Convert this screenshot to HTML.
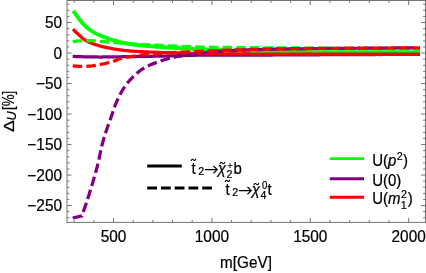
<!DOCTYPE html>
<html><head><meta charset="utf-8"><title>plot</title>
<style>html,body{margin:0;padding:0;background:#fff;}body{width:426px;height:273px;overflow:hidden;font-family:"Liberation Sans",sans-serif;}</style>
</head><body>
<svg width="426" height="273" viewBox="0 0 426 273" style="display:block;will-change:transform">
<rect x="0" y="0" width="426" height="273" fill="#fff"/>
<g fill="none" stroke-linejoin="round">
<path d="M73.20,10.90 L73.68,11.55 L74.16,12.19 L74.64,12.84 L75.12,13.48 L75.60,14.12 L76.08,14.76 L76.56,15.40 L77.04,16.04 L77.53,16.67 L78.01,17.31 L78.49,17.95 L78.97,18.60 L79.45,19.25 L79.93,19.90 L80.41,20.55 L80.89,21.18 L81.37,21.79 L81.85,22.38 L82.33,22.93 L82.81,23.47 L83.29,23.98 L83.77,24.48 L84.25,24.96 L84.73,25.43 L85.21,25.89 L85.69,26.33 L86.18,26.75 L86.66,27.18 L87.14,27.59 L87.62,28.00 L88.10,28.40 L88.58,28.80 L89.06,29.18 L89.54,29.56 L90.02,29.92 L90.50,30.28 L90.98,30.62 L91.46,30.95 L91.94,31.27 L92.42,31.58 L92.90,31.87 L93.38,32.15 L93.86,32.43 L94.35,32.69 L94.83,32.95 L95.31,33.20 L95.79,33.45 L96.27,33.68 L96.75,33.92 L97.23,34.14 L97.71,34.37 L98.19,34.59 L98.67,34.80 L99.15,35.01 L99.63,35.22 L100.11,35.42 L100.59,35.62 L101.07,35.82 L101.55,36.01 L102.03,36.20 L102.52,36.39 L103.00,36.57 L103.48,36.76 L103.96,36.94 L104.44,37.12 L104.92,37.30 L105.40,37.47 L105.88,37.65 L106.36,37.82 L106.84,38.00 L107.32,38.17 L107.80,38.34 L108.28,38.51 L108.76,38.69 L109.24,38.85 L109.72,39.02 L110.20,39.19 L110.68,39.35 L111.17,39.51 L111.65,39.67 L112.13,39.83 L112.61,39.98 L113.09,40.13 L113.57,40.28 L114.05,40.43 L114.53,40.57 L115.01,40.70 L115.49,40.84 L115.97,40.97 L116.45,41.10 L116.93,41.23 L117.41,41.35 L117.89,41.48 L118.37,41.60 L118.85,41.72 L119.34,41.84 L119.82,41.96 L120.30,42.07 L120.78,42.18 L121.26,42.29 L121.74,42.40 L122.22,42.51 L122.70,42.61 L123.18,42.71 L123.66,42.81 L124.14,42.91 L124.62,43.00 L125.10,43.10 L125.58,43.19 L126.06,43.28 L126.54,43.37 L127.02,43.46 L127.51,43.55 L127.99,43.64 L128.47,43.73 L128.95,43.81 L129.43,43.90 L129.91,43.98 L130.39,44.07 L130.87,44.15 L131.35,44.23 L131.83,44.31 L132.31,44.39 L132.79,44.46 L133.27,44.54 L133.75,44.61 L134.23,44.68 L134.71,44.75 L135.19,44.82 L135.67,44.89 L136.16,44.96 L136.64,45.02 L137.12,45.08 L137.60,45.14 L138.08,45.20 L138.56,45.25 L139.04,45.30 L139.52,45.36 L140.00,45.41 L142.35,45.63 L144.70,45.83 L147.06,46.01 L149.41,46.18 L151.76,46.35 L154.11,46.53 L156.46,46.72 L158.82,46.92 L161.17,47.13 L163.52,47.32 L165.87,47.49 L168.23,47.65 L170.58,47.79 L172.93,47.94 L175.28,48.07 L177.63,48.20 L179.99,48.33 L182.34,48.46 L184.69,48.57 L187.04,48.69 L189.39,48.81 L191.75,48.92 L194.10,49.03 L196.45,49.14 L198.80,49.25 L201.15,49.35 L203.51,49.46 L205.86,49.57 L208.21,49.67 L210.56,49.77 L212.92,49.88 L215.27,49.98 L217.62,50.07 L219.97,50.17 L222.32,50.27 L224.68,50.36 L227.03,50.45 L229.38,50.54 L231.73,50.62 L234.08,50.71 L236.44,50.79 L238.79,50.86 L241.14,50.94 L243.49,51.01 L245.84,51.09 L248.20,51.16 L250.55,51.24 L252.90,51.31 L255.25,51.38 L257.61,51.45 L259.96,51.51 L262.31,51.57 L264.66,51.63 L267.01,51.68 L269.37,51.72 L271.72,51.76 L274.07,51.79 L276.42,51.81 L278.77,51.84 L281.13,51.86 L283.48,51.88 L285.83,51.90 L288.18,51.91 L290.53,51.93 L292.89,51.95 L295.24,51.97 L297.59,51.98 L299.94,52.00 L302.29,52.01 L304.65,52.03 L307.00,52.04 L309.35,52.05 L311.70,52.06 L314.06,52.08 L316.41,52.09 L318.76,52.10 L321.11,52.11 L323.46,52.12 L325.82,52.13 L328.17,52.14 L330.52,52.15 L332.87,52.15 L335.22,52.16 L337.58,52.17 L339.93,52.17 L342.28,52.18 L344.63,52.19 L346.98,52.19 L349.34,52.20 L351.69,52.20 L354.04,52.21 L356.39,52.21 L358.75,52.22 L361.10,52.22 L363.45,52.23 L365.80,52.23 L368.15,52.24 L370.51,52.24 L372.86,52.25 L375.21,52.25 L377.56,52.26 L379.91,52.26 L382.27,52.27 L384.62,52.27 L386.97,52.27 L389.32,52.28 L391.67,52.28 L394.03,52.28 L396.38,52.29 L398.73,52.29 L401.08,52.29 L403.44,52.29 L405.79,52.29 L408.14,52.30 L410.49,52.30 L412.84,52.30 L415.20,52.30 L417.55,52.30 L419.90,52.30" stroke="#00ff00" stroke-width="3.85"/>
<path d="M72.70,56.40 L73.18,56.42 L73.67,56.44 L74.15,56.46 L74.64,56.47 L75.12,56.49 L75.61,56.51 L76.09,56.53 L76.57,56.54 L77.06,56.56 L77.54,56.58 L78.03,56.59 L78.51,56.61 L78.99,56.63 L79.48,56.64 L79.96,56.66 L80.45,56.67 L80.93,56.69 L81.42,56.70 L81.90,56.72 L82.38,56.73 L82.87,56.74 L83.35,56.76 L83.84,56.77 L84.32,56.78 L84.80,56.79 L85.29,56.81 L85.77,56.82 L86.26,56.83 L86.74,56.84 L87.23,56.85 L87.71,56.86 L88.19,56.87 L88.68,56.88 L89.16,56.89 L89.65,56.90 L90.13,56.91 L90.61,56.92 L91.10,56.93 L91.58,56.93 L92.07,56.94 L92.55,56.95 L93.04,56.95 L93.52,56.96 L94.00,56.97 L94.49,56.97 L94.97,56.98 L95.46,56.98 L95.94,56.98 L96.42,56.99 L96.91,56.99 L97.39,56.99 L97.88,57.00 L98.36,57.00 L98.85,57.00 L99.33,57.00 L99.81,57.00 L100.30,57.00 L100.78,57.00 L101.27,57.00 L101.75,57.00 L102.23,57.00 L102.72,56.99 L103.20,56.99 L103.69,56.99 L104.17,56.99 L104.66,56.98 L105.14,56.98 L105.62,56.98 L106.11,56.97 L106.59,56.97 L107.08,56.96 L107.56,56.96 L108.04,56.95 L108.53,56.95 L109.01,56.94 L109.50,56.94 L109.98,56.93 L110.47,56.92 L110.95,56.92 L111.43,56.91 L111.92,56.90 L112.40,56.90 L112.89,56.89 L113.37,56.88 L113.85,56.87 L114.34,56.87 L114.82,56.86 L115.31,56.85 L115.79,56.84 L116.28,56.83 L116.76,56.83 L117.24,56.82 L117.73,56.81 L118.21,56.80 L118.70,56.79 L119.18,56.78 L119.66,56.78 L120.15,56.77 L120.63,56.76 L121.12,56.75 L121.60,56.74 L122.09,56.73 L122.57,56.72 L123.05,56.71 L123.54,56.71 L124.02,56.70 L124.51,56.69 L124.99,56.68 L125.47,56.67 L125.96,56.66 L126.44,56.66 L126.93,56.65 L127.41,56.64 L127.90,56.63 L128.38,56.62 L128.86,56.62 L129.35,56.61 L129.83,56.60 L130.32,56.60 L130.80,56.59 L131.28,56.58 L131.77,56.57 L132.25,56.57 L132.74,56.56 L133.22,56.55 L133.71,56.54 L134.19,56.54 L134.67,56.53 L135.16,56.52 L135.64,56.52 L136.13,56.51 L136.61,56.50 L137.09,56.49 L137.58,56.49 L138.06,56.48 L138.55,56.47 L139.03,56.46 L139.52,56.46 L140.00,56.45 L142.35,56.41 L144.70,56.37 L147.06,56.34 L149.41,56.30 L151.76,56.26 L154.11,56.22 L156.46,56.18 L158.82,56.14 L161.17,56.09 L163.52,56.05 L165.87,56.00 L168.23,55.95 L170.58,55.90 L172.93,55.83 L175.28,55.77 L177.63,55.70 L179.99,55.63 L182.34,55.56 L184.69,55.49 L187.04,55.43 L189.39,55.37 L191.75,55.31 L194.10,55.27 L196.45,55.23 L198.80,55.21 L201.15,55.19 L203.51,55.18 L205.86,55.17 L208.21,55.16 L210.56,55.15 L212.92,55.14 L215.27,55.14 L217.62,55.13 L219.97,55.12 L222.32,55.12 L224.68,55.11 L227.03,55.10 L229.38,55.10 L231.73,55.09 L234.08,55.09 L236.44,55.09 L238.79,55.08 L241.14,55.08 L243.49,55.07 L245.84,55.07 L248.20,55.06 L250.55,55.06 L252.90,55.06 L255.25,55.05 L257.61,55.05 L259.96,55.04 L262.31,55.04 L264.66,55.03 L267.01,55.02 L269.37,55.02 L271.72,55.01 L274.07,55.00 L276.42,54.99 L278.77,54.99 L281.13,54.98 L283.48,54.97 L285.83,54.95 L288.18,54.94 L290.53,54.93 L292.89,54.92 L295.24,54.90 L297.59,54.89 L299.94,54.88 L302.29,54.86 L304.65,54.85 L307.00,54.84 L309.35,54.82 L311.70,54.81 L314.06,54.79 L316.41,54.78 L318.76,54.76 L321.11,54.75 L323.46,54.73 L325.82,54.72 L328.17,54.71 L330.52,54.69 L332.87,54.68 L335.22,54.67 L337.58,54.66 L339.93,54.64 L342.28,54.63 L344.63,54.62 L346.98,54.61 L349.34,54.60 L351.69,54.59 L354.04,54.59 L356.39,54.58 L358.75,54.57 L361.10,54.56 L363.45,54.55 L365.80,54.54 L368.15,54.54 L370.51,54.53 L372.86,54.52 L375.21,54.51 L377.56,54.50 L379.91,54.50 L382.27,54.49 L384.62,54.48 L386.97,54.48 L389.32,54.47 L391.67,54.46 L394.03,54.46 L396.38,54.45 L398.73,54.44 L401.08,54.44 L403.44,54.43 L405.79,54.43 L408.14,54.42 L410.49,54.42 L412.84,54.41 L415.20,54.41 L417.55,54.40 L419.90,54.40" stroke="#800080" stroke-width="3.25"/>
<path d="M72.90,29.20 L73.38,29.68 L73.87,30.15 L74.35,30.62 L74.83,31.08 L75.31,31.54 L75.80,32.00 L76.28,32.46 L76.76,32.91 L77.24,33.35 L77.73,33.80 L78.21,34.24 L78.69,34.67 L79.18,35.12 L79.66,35.56 L80.14,36.01 L80.62,36.46 L81.11,36.90 L81.59,37.33 L82.07,37.76 L82.55,38.17 L83.04,38.57 L83.52,38.94 L84.00,39.29 L84.49,39.62 L84.97,39.93 L85.45,40.23 L85.93,40.51 L86.42,40.78 L86.90,41.04 L87.38,41.29 L87.86,41.53 L88.35,41.77 L88.83,42.01 L89.31,42.24 L89.80,42.47 L90.28,42.68 L90.76,42.90 L91.24,43.10 L91.73,43.29 L92.21,43.48 L92.69,43.66 L93.17,43.84 L93.66,44.01 L94.14,44.19 L94.62,44.35 L95.11,44.52 L95.59,44.68 L96.07,44.83 L96.55,44.99 L97.04,45.14 L97.52,45.29 L98.00,45.43 L98.48,45.57 L98.97,45.71 L99.45,45.85 L99.93,45.98 L100.42,46.11 L100.90,46.24 L101.38,46.36 L101.86,46.48 L102.35,46.60 L102.83,46.71 L103.31,46.82 L103.79,46.93 L104.28,47.04 L104.76,47.15 L105.24,47.25 L105.73,47.35 L106.21,47.45 L106.69,47.55 L107.17,47.65 L107.66,47.74 L108.14,47.84 L108.62,47.93 L109.11,48.02 L109.59,48.12 L110.07,48.21 L110.55,48.31 L111.04,48.41 L111.52,48.52 L112.00,48.61 L112.48,48.71 L112.97,48.79 L113.45,48.88 L113.93,48.96 L114.42,49.04 L114.90,49.12 L115.38,49.20 L115.86,49.27 L116.35,49.35 L116.83,49.43 L117.31,49.50 L117.79,49.57 L118.28,49.65 L118.76,49.72 L119.24,49.79 L119.73,49.85 L120.21,49.92 L120.69,49.99 L121.17,50.05 L121.66,50.11 L122.14,50.17 L122.62,50.23 L123.10,50.29 L123.59,50.35 L124.07,50.40 L124.55,50.45 L125.04,50.50 L125.52,50.55 L126.00,50.60 L126.48,50.65 L126.97,50.69 L127.45,50.73 L127.93,50.78 L128.41,50.82 L128.90,50.86 L129.38,50.90 L129.86,50.94 L130.35,50.98 L130.83,51.01 L131.31,51.05 L131.79,51.09 L132.28,51.12 L132.76,51.16 L133.24,51.19 L133.72,51.23 L134.21,51.26 L134.69,51.29 L135.17,51.32 L135.66,51.35 L136.14,51.38 L136.62,51.41 L137.10,51.44 L137.59,51.47 L138.07,51.50 L138.55,51.52 L139.03,51.55 L139.52,51.57 L140.00,51.60 L142.35,51.71 L144.70,51.82 L147.06,51.91 L149.41,52.00 L151.76,52.09 L154.11,52.17 L156.46,52.25 L158.82,52.33 L161.17,52.42 L163.52,52.50 L165.87,52.58 L168.23,52.66 L170.58,52.74 L172.93,52.82 L175.28,52.90 L177.63,52.97 L179.99,53.05 L182.34,53.12 L184.69,53.18 L187.04,53.24 L189.39,53.30 L191.75,53.36 L194.10,53.40 L196.45,53.45 L198.80,53.48 L201.15,53.52 L203.51,53.55 L205.86,53.57 L208.21,53.60 L210.56,53.63 L212.92,53.66 L215.27,53.69 L217.62,53.71 L219.97,53.74 L222.32,53.76 L224.68,53.79 L227.03,53.81 L229.38,53.83 L231.73,53.85 L234.08,53.87 L236.44,53.89 L238.79,53.91 L241.14,53.93 L243.49,53.95 L245.84,53.96 L248.20,53.98 L250.55,54.00 L252.90,54.01 L255.25,54.02 L257.61,54.04 L259.96,54.05 L262.31,54.06 L264.66,54.07 L267.01,54.08 L269.37,54.08 L271.72,54.09 L274.07,54.10 L276.42,54.10 L278.77,54.11 L281.13,54.11 L283.48,54.12 L285.83,54.12 L288.18,54.13 L290.53,54.13 L292.89,54.13 L295.24,54.14 L297.59,54.14 L299.94,54.14 L302.29,54.15 L304.65,54.15 L307.00,54.15 L309.35,54.16 L311.70,54.16 L314.06,54.16 L316.41,54.16 L318.76,54.17 L321.11,54.17 L323.46,54.17 L325.82,54.17 L328.17,54.17 L330.52,54.18 L332.87,54.18 L335.22,54.18 L337.58,54.18 L339.93,54.19 L342.28,54.19 L344.63,54.19 L346.98,54.20 L349.34,54.20 L351.69,54.20 L354.04,54.21 L356.39,54.21 L358.75,54.21 L361.10,54.22 L363.45,54.22 L365.80,54.22 L368.15,54.23 L370.51,54.23 L372.86,54.23 L375.21,54.24 L377.56,54.24 L379.91,54.24 L382.27,54.25 L384.62,54.25 L386.97,54.25 L389.32,54.26 L391.67,54.26 L394.03,54.26 L396.38,54.27 L398.73,54.27 L401.08,54.27 L403.44,54.28 L405.79,54.28 L408.14,54.28 L410.49,54.29 L412.84,54.29 L415.20,54.29 L417.55,54.30 L419.90,54.30" stroke="#ff0000" stroke-width="3.25"/>
<path d="M72.70,41.60 L73.18,41.53 L73.67,41.46 L74.15,41.40 L74.64,41.33 L75.12,41.27 L75.61,41.21 L76.09,41.15 L76.57,41.09 L77.06,41.04 L77.54,40.99 L78.03,40.95 L78.51,40.90 L78.99,40.87 L79.48,40.83 L79.96,40.80 L80.45,40.77 L80.93,40.75 L81.42,40.72 L81.90,40.70 L82.38,40.67 L82.87,40.65 L83.35,40.62 L83.84,40.60 L84.32,40.58 L84.80,40.56 L85.29,40.55 L85.77,40.53 L86.26,40.52 L86.74,40.51 L87.23,40.50 L87.71,40.50 L88.19,40.50 L88.68,40.51 L89.16,40.52 L89.65,40.53 L90.13,40.55 L90.61,40.58 L91.10,40.60 L91.58,40.64 L92.07,40.67 L92.55,40.71 L93.04,40.75 L93.52,40.79 L94.00,40.84 L94.49,40.88 L94.97,40.93 L95.46,40.98 L95.94,41.03 L96.42,41.07 L96.91,41.12 L97.39,41.17 L97.88,41.22 L98.36,41.26 L98.85,41.30 L99.33,41.35 L99.81,41.39 L100.30,41.42 L100.78,41.46 L101.27,41.50 L101.75,41.53 L102.23,41.57 L102.72,41.61 L103.20,41.64 L103.69,41.68 L104.17,41.72 L104.66,41.75 L105.14,41.79 L105.62,41.83 L106.11,41.86 L106.59,41.90 L107.08,41.94 L107.56,41.97 L108.04,42.01 L108.53,42.05 L109.01,42.09 L109.50,42.12 L109.98,42.16 L110.47,42.20 L110.95,42.24 L111.43,42.28 L111.92,42.31 L112.40,42.35 L112.89,42.39 L113.37,42.43 L113.85,42.47 L114.34,42.51 L114.82,42.55 L115.31,42.59 L115.79,42.63 L116.28,42.67 L116.76,42.71 L117.24,42.76 L117.73,42.80 L118.21,42.84 L118.70,42.88 L119.18,42.92 L119.66,42.97 L120.15,43.01 L120.63,43.05 L121.12,43.09 L121.60,43.13 L122.09,43.17 L122.57,43.21 L123.05,43.25 L123.54,43.29 L124.02,43.33 L124.51,43.36 L124.99,43.40 L125.47,43.44 L125.96,43.47 L126.44,43.51 L126.93,43.54 L127.41,43.58 L127.90,43.61 L128.38,43.65 L128.86,43.68 L129.35,43.72 L129.83,43.75 L130.32,43.78 L130.80,43.82 L131.28,43.85 L131.77,43.88 L132.25,43.92 L132.74,43.95 L133.22,43.98 L133.71,44.01 L134.19,44.05 L134.67,44.08 L135.16,44.11 L135.64,44.14 L136.13,44.17 L136.61,44.20 L137.09,44.23 L137.58,44.26 L138.06,44.29 L138.55,44.32 L139.03,44.34 L139.52,44.37 L140.00,44.40 L142.35,44.53 L144.70,44.64 L147.06,44.76 L149.41,44.87 L151.76,44.99 L154.11,45.11 L156.46,45.23 L158.82,45.35 L161.17,45.47 L163.52,45.59 L165.87,45.69 L168.23,45.80 L170.58,45.90 L172.93,46.01 L175.28,46.11 L177.63,46.22 L179.99,46.32 L182.34,46.42 L184.69,46.51 L187.04,46.60 L189.39,46.69 L191.75,46.77 L194.10,46.85 L196.45,46.91 L198.80,46.97 L201.15,47.02 L203.51,47.07 L205.86,47.12 L208.21,47.17 L210.56,47.21 L212.92,47.25 L215.27,47.29 L217.62,47.33 L219.97,47.36 L222.32,47.39 L224.68,47.43 L227.03,47.46 L229.38,47.49 L231.73,47.51 L234.08,47.54 L236.44,47.56 L238.79,47.59 L241.14,47.61 L243.49,47.63 L245.84,47.65 L248.20,47.67 L250.55,47.69 L252.90,47.71 L255.25,47.72 L257.61,47.74 L259.96,47.76 L262.31,47.77 L264.66,47.79 L267.01,47.80 L269.37,47.82 L271.72,47.83 L274.07,47.84 L276.42,47.86 L278.77,47.87 L281.13,47.88 L283.48,47.90 L285.83,47.91 L288.18,47.92 L290.53,47.93 L292.89,47.94 L295.24,47.95 L297.59,47.96 L299.94,47.97 L302.29,47.98 L304.65,47.99 L307.00,48.01 L309.35,48.02 L311.70,48.04 L314.06,48.05 L316.41,48.07 L318.76,48.09 L321.11,48.11 L323.46,48.14 L325.82,48.19 L328.17,48.24 L330.52,48.29 L332.87,48.35 L335.22,48.41 L337.58,48.47 L339.93,48.53 L342.28,48.58 L344.63,48.63 L346.98,48.67 L349.34,48.69 L351.69,48.71 L354.04,48.73 L356.39,48.75 L358.75,48.76 L361.10,48.78 L363.45,48.80 L365.80,48.81 L368.15,48.83 L370.51,48.84 L372.86,48.86 L375.21,48.87 L377.56,48.88 L379.91,48.89 L382.27,48.91 L384.62,48.92 L386.97,48.93 L389.32,48.94 L391.67,48.95 L394.03,48.95 L396.38,48.96 L398.73,48.97 L401.08,48.98 L403.44,48.98 L405.79,48.99 L408.14,48.99 L410.49,48.99 L412.84,49.00 L415.20,49.00 L417.55,49.00 L419.90,49.00" stroke="#00ff00" stroke-width="3.25" stroke-dasharray="9.6 4.05"/>
<path d="M72.70,218.00 L81.90,215.90 L82.32,214.71 L82.74,213.51 L83.15,212.30 L83.57,211.09 L83.99,209.87 L84.41,208.64 L84.83,207.40 L85.24,206.15 L85.66,204.90 L86.08,203.64 L86.50,202.37 L86.92,201.10 L87.33,199.82 L87.75,198.53 L88.17,197.24 L88.59,195.94 L89.01,194.64 L89.42,193.33 L89.84,192.01 L90.26,190.68 L90.68,189.34 L91.10,187.99 L91.51,186.63 L91.93,185.25 L92.35,183.86 L92.77,182.45 L93.19,181.03 L93.60,179.60 L94.02,178.17 L94.44,176.73 L94.86,175.27 L95.28,173.80 L95.69,172.31 L96.11,170.79 L96.53,169.24 L96.95,167.66 L97.37,166.04 L97.78,164.38 L98.20,162.66 L98.62,160.82 L99.04,158.87 L99.46,156.86 L99.87,154.81 L100.29,152.77 L100.71,150.77 L101.13,148.84 L101.55,147.03 L101.96,145.36 L102.38,143.77 L102.80,142.22 L103.22,140.72 L103.64,139.27 L104.05,137.85 L104.47,136.46 L104.89,135.11 L105.31,133.78 L105.73,132.46 L106.14,131.17 L106.56,129.90 L106.98,128.67 L107.40,127.47 L107.82,126.30 L108.23,125.14 L108.65,124.00 L109.07,122.86 L109.49,121.73 L109.91,120.58 L110.32,119.43 L110.74,118.25 L111.16,117.05 L111.58,115.82 L111.99,114.56 L112.41,113.28 L112.83,112.01 L113.25,110.74 L113.67,109.49 L114.08,108.28 L114.50,107.10 L114.92,105.97 L115.34,104.90 L115.76,103.88 L116.17,102.87 L116.59,101.89 L117.01,100.93 L117.43,99.99 L117.85,99.07 L118.26,98.18 L118.68,97.30 L119.10,96.45 L119.52,95.61 L119.94,94.80 L120.35,94.02 L120.77,93.25 L121.19,92.50 L121.61,91.77 L122.03,91.04 L122.44,90.34 L122.86,89.64 L123.28,88.96 L123.70,88.30 L124.12,87.65 L124.53,87.02 L124.95,86.40 L125.37,85.80 L125.79,85.21 L126.21,84.64 L126.62,84.08 L127.04,83.55 L127.46,83.02 L127.88,82.51 L128.30,82.00 L128.71,81.51 L129.13,81.02 L129.55,80.55 L129.97,80.08 L130.39,79.62 L130.80,79.17 L131.22,78.73 L131.64,78.29 L132.06,77.87 L132.48,77.45 L132.89,77.03 L133.31,76.63 L133.73,76.23 L134.15,75.83 L134.57,75.45 L134.98,75.06 L135.40,74.69 L135.82,74.31 L136.24,73.94 L136.66,73.58 L137.07,73.21 L137.49,72.85 L137.91,72.49 L138.33,72.13 L138.75,71.78 L139.16,71.44 L139.58,71.10 L140.00,70.77 L142.35,69.02 L144.70,67.54 L147.06,66.32 L149.41,65.27 L151.76,64.31 L154.11,63.38 L156.46,62.46 L158.82,61.58 L161.17,60.75 L163.52,59.98 L165.87,59.29 L168.23,58.66 L170.58,58.06 L172.93,57.50 L175.28,56.98 L177.63,56.49 L179.99,56.04 L182.34,55.61 L184.69,55.21 L187.04,54.83 L189.39,54.49 L191.75,54.16 L194.10,53.87 L196.45,53.59 L198.80,53.33 L201.15,53.08 L203.51,52.82 L205.86,52.58 L208.21,52.33 L210.56,52.10 L212.92,51.88 L215.27,51.67 L217.62,51.48 L219.97,51.30 L222.32,51.14 L224.68,50.99 L227.03,50.84 L229.38,50.71 L231.73,50.58 L234.08,50.46 L236.44,50.35 L238.79,50.25 L241.14,50.16 L243.49,50.07 L245.84,49.98 L248.20,49.90 L250.55,49.82 L252.90,49.75 L255.25,49.67 L257.61,49.61 L259.96,49.54 L262.31,49.48 L264.66,49.42 L267.01,49.36 L269.37,49.31 L271.72,49.26 L274.07,49.22 L276.42,49.17 L278.77,49.13 L281.13,49.09 L283.48,49.06 L285.83,49.02 L288.18,48.98 L290.53,48.95 L292.89,48.91 L295.24,48.88 L297.59,48.84 L299.94,48.81 L302.29,48.78 L304.65,48.75 L307.00,48.72 L309.35,48.69 L311.70,48.66 L314.06,48.64 L316.41,48.61 L318.76,48.59 L321.11,48.56 L323.46,48.54 L325.82,48.51 L328.17,48.49 L330.52,48.47 L332.87,48.44 L335.22,48.42 L337.58,48.40 L339.93,48.38 L342.28,48.36 L344.63,48.34 L346.98,48.32 L349.34,48.31 L351.69,48.29 L354.04,48.27 L356.39,48.25 L358.75,48.23 L361.10,48.22 L363.45,48.20 L365.80,48.18 L368.15,48.17 L370.51,48.15 L372.86,48.13 L375.21,48.12 L377.56,48.10 L379.91,48.09 L382.27,48.07 L384.62,48.06 L386.97,48.04 L389.32,48.03 L391.67,48.02 L394.03,48.00 L396.38,47.99 L398.73,47.98 L401.08,47.97 L403.44,47.96 L405.79,47.95 L408.14,47.94 L410.49,47.93 L412.84,47.92 L415.20,47.91 L417.55,47.91 L419.90,47.90" stroke="#800080" stroke-width="3.25" stroke-dasharray="9.6 4.05"/>
<path d="M72.70,65.80 L73.18,65.86 L73.67,65.91 L74.15,65.96 L74.64,66.01 L75.12,66.06 L75.61,66.10 L76.09,66.14 L76.57,66.18 L77.06,66.22 L77.54,66.25 L78.03,66.28 L78.51,66.31 L78.99,66.33 L79.48,66.35 L79.96,66.37 L80.45,66.38 L80.93,66.39 L81.42,66.40 L81.90,66.40 L82.38,66.40 L82.87,66.40 L83.35,66.39 L83.84,66.38 L84.32,66.37 L84.80,66.35 L85.29,66.34 L85.77,66.32 L86.26,66.30 L86.74,66.28 L87.23,66.25 L87.71,66.23 L88.19,66.20 L88.68,66.18 L89.16,66.15 L89.65,66.12 L90.13,66.09 L90.61,66.06 L91.10,66.01 L91.58,65.97 L92.07,65.91 L92.55,65.85 L93.04,65.78 L93.52,65.71 L94.00,65.63 L94.49,65.55 L94.97,65.47 L95.46,65.38 L95.94,65.29 L96.42,65.20 L96.91,65.10 L97.39,65.01 L97.88,64.91 L98.36,64.82 L98.85,64.72 L99.33,64.63 L99.81,64.54 L100.30,64.44 L100.78,64.35 L101.27,64.26 L101.75,64.17 L102.23,64.07 L102.72,63.98 L103.20,63.88 L103.69,63.78 L104.17,63.68 L104.66,63.58 L105.14,63.48 L105.62,63.37 L106.11,63.26 L106.59,63.16 L107.08,63.05 L107.56,62.93 L108.04,62.82 L108.53,62.70 L109.01,62.58 L109.50,62.46 L109.98,62.34 L110.47,62.21 L110.95,62.08 L111.43,61.95 L111.92,61.81 L112.40,61.67 L112.89,61.53 L113.37,61.38 L113.85,61.22 L114.34,61.03 L114.82,60.84 L115.31,60.64 L115.79,60.42 L116.28,60.21 L116.76,60.00 L117.24,59.79 L117.73,59.58 L118.21,59.39 L118.70,59.21 L119.18,59.04 L119.66,58.89 L120.15,58.76 L120.63,58.64 L121.12,58.52 L121.60,58.41 L122.09,58.29 L122.57,58.18 L123.05,58.07 L123.54,57.96 L124.02,57.86 L124.51,57.75 L124.99,57.65 L125.47,57.55 L125.96,57.45 L126.44,57.36 L126.93,57.26 L127.41,57.17 L127.90,57.08 L128.38,56.99 L128.86,56.90 L129.35,56.82 L129.83,56.73 L130.32,56.65 L130.80,56.57 L131.28,56.49 L131.77,56.41 L132.25,56.33 L132.74,56.25 L133.22,56.18 L133.71,56.11 L134.19,56.03 L134.67,55.96 L135.16,55.89 L135.64,55.83 L136.13,55.76 L136.61,55.69 L137.09,55.63 L137.58,55.56 L138.06,55.50 L138.55,55.44 L139.03,55.38 L139.52,55.31 L140.00,55.25 L142.35,54.97 L144.70,54.71 L147.06,54.47 L149.41,54.24 L151.76,54.03 L154.11,53.83 L156.46,53.65 L158.82,53.48 L161.17,53.32 L163.52,53.17 L165.87,53.02 L168.23,52.88 L170.58,52.74 L172.93,52.60 L175.28,52.47 L177.63,52.35 L179.99,52.23 L182.34,52.11 L184.69,52.00 L187.04,51.88 L189.39,51.77 L191.75,51.67 L194.10,51.56 L196.45,51.46 L198.80,51.35 L201.15,51.25 L203.51,51.15 L205.86,51.05 L208.21,50.95 L210.56,50.85 L212.92,50.76 L215.27,50.67 L217.62,50.57 L219.97,50.48 L222.32,50.40 L224.68,50.31 L227.03,50.23 L229.38,50.14 L231.73,50.06 L234.08,49.99 L236.44,49.91 L238.79,49.84 L241.14,49.77 L243.49,49.69 L245.84,49.62 L248.20,49.55 L250.55,49.48 L252.90,49.41 L255.25,49.34 L257.61,49.28 L259.96,49.21 L262.31,49.15 L264.66,49.10 L267.01,49.05 L269.37,49.00 L271.72,48.95 L274.07,48.91 L276.42,48.88 L278.77,48.85 L281.13,48.81 L283.48,48.78 L285.83,48.75 L288.18,48.72 L290.53,48.70 L292.89,48.67 L295.24,48.64 L297.59,48.62 L299.94,48.59 L302.29,48.57 L304.65,48.54 L307.00,48.52 L309.35,48.50 L311.70,48.48 L314.06,48.46 L316.41,48.43 L318.76,48.42 L321.11,48.40 L323.46,48.38 L325.82,48.36 L328.17,48.34 L330.52,48.33 L332.87,48.31 L335.22,48.29 L337.58,48.28 L339.93,48.26 L342.28,48.25 L344.63,48.23 L346.98,48.22 L349.34,48.20 L351.69,48.19 L354.04,48.18 L356.39,48.16 L358.75,48.15 L361.10,48.14 L363.45,48.12 L365.80,48.11 L368.15,48.10 L370.51,48.09 L372.86,48.07 L375.21,48.06 L377.56,48.05 L379.91,48.04 L382.27,48.03 L384.62,48.02 L386.97,48.01 L389.32,48.00 L391.67,47.99 L394.03,47.98 L396.38,47.97 L398.73,47.96 L401.08,47.95 L403.44,47.94 L405.79,47.94 L408.14,47.93 L410.49,47.92 L412.84,47.92 L415.20,47.91 L417.55,47.90 L419.90,47.90" stroke="#ff0000" stroke-width="3.25" stroke-dasharray="9.6 4.05"/>
</g>
<g stroke="#747474" stroke-width="1" fill="none">
<rect x="67.0" y="0.5" width="358.5" height="221.9"/>
<path d="M74.20,222.4 v-2.4 M74.20,0.5 v2.4"/>
<path d="M93.88,222.4 v-2.4 M93.88,0.5 v2.4"/>
<path d="M113.55,222.4 v-4.5 M113.55,0.5 v4.5"/>
<path d="M133.22,222.4 v-2.4 M133.22,0.5 v2.4"/>
<path d="M152.90,222.4 v-2.4 M152.90,0.5 v2.4"/>
<path d="M172.57,222.4 v-2.4 M172.57,0.5 v2.4"/>
<path d="M192.24,222.4 v-2.4 M192.24,0.5 v2.4"/>
<path d="M211.92,222.4 v-4.5 M211.92,0.5 v4.5"/>
<path d="M231.59,222.4 v-2.4 M231.59,0.5 v2.4"/>
<path d="M251.26,222.4 v-2.4 M251.26,0.5 v2.4"/>
<path d="M270.94,222.4 v-2.4 M270.94,0.5 v2.4"/>
<path d="M290.61,222.4 v-2.4 M290.61,0.5 v2.4"/>
<path d="M310.28,222.4 v-4.5 M310.28,0.5 v4.5"/>
<path d="M329.96,222.4 v-2.4 M329.96,0.5 v2.4"/>
<path d="M349.63,222.4 v-2.4 M349.63,0.5 v2.4"/>
<path d="M369.30,222.4 v-2.4 M369.30,0.5 v2.4"/>
<path d="M388.98,222.4 v-2.4 M388.98,0.5 v2.4"/>
<path d="M408.65,222.4 v-4.5 M408.65,0.5 v4.5"/>
<path d="M67.0,217.75 h2.4 M425.5,217.75 h-2.4"/>
<path d="M67.0,211.65 h2.4 M425.5,211.65 h-2.4"/>
<path d="M67.0,205.55 h4.5 M425.5,205.55 h-4.5"/>
<path d="M67.0,199.45 h2.4 M425.5,199.45 h-2.4"/>
<path d="M67.0,193.35 h2.4 M425.5,193.35 h-2.4"/>
<path d="M67.0,187.25 h2.4 M425.5,187.25 h-2.4"/>
<path d="M67.0,181.15 h2.4 M425.5,181.15 h-2.4"/>
<path d="M67.0,175.05 h4.5 M425.5,175.05 h-4.5"/>
<path d="M67.0,168.95 h2.4 M425.5,168.95 h-2.4"/>
<path d="M67.0,162.85 h2.4 M425.5,162.85 h-2.4"/>
<path d="M67.0,156.75 h2.4 M425.5,156.75 h-2.4"/>
<path d="M67.0,150.65 h2.4 M425.5,150.65 h-2.4"/>
<path d="M67.0,144.55 h4.5 M425.5,144.55 h-4.5"/>
<path d="M67.0,138.45 h2.4 M425.5,138.45 h-2.4"/>
<path d="M67.0,132.35 h2.4 M425.5,132.35 h-2.4"/>
<path d="M67.0,126.25 h2.4 M425.5,126.25 h-2.4"/>
<path d="M67.0,120.15 h2.4 M425.5,120.15 h-2.4"/>
<path d="M67.0,114.05 h4.5 M425.5,114.05 h-4.5"/>
<path d="M67.0,107.95 h2.4 M425.5,107.95 h-2.4"/>
<path d="M67.0,101.85 h2.4 M425.5,101.85 h-2.4"/>
<path d="M67.0,95.75 h2.4 M425.5,95.75 h-2.4"/>
<path d="M67.0,89.65 h2.4 M425.5,89.65 h-2.4"/>
<path d="M67.0,83.55 h4.5 M425.5,83.55 h-4.5"/>
<path d="M67.0,77.45 h2.4 M425.5,77.45 h-2.4"/>
<path d="M67.0,71.35 h2.4 M425.5,71.35 h-2.4"/>
<path d="M67.0,65.25 h2.4 M425.5,65.25 h-2.4"/>
<path d="M67.0,59.15 h2.4 M425.5,59.15 h-2.4"/>
<path d="M67.0,53.05 h4.5 M425.5,53.05 h-4.5"/>
<path d="M67.0,46.95 h2.4 M425.5,46.95 h-2.4"/>
<path d="M67.0,40.85 h2.4 M425.5,40.85 h-2.4"/>
<path d="M67.0,34.75 h2.4 M425.5,34.75 h-2.4"/>
<path d="M67.0,28.65 h2.4 M425.5,28.65 h-2.4"/>
<path d="M67.0,22.55 h4.5 M425.5,22.55 h-4.5"/>
<path d="M67.0,16.45 h2.4 M425.5,16.45 h-2.4"/>
<path d="M67.0,10.35 h2.4 M425.5,10.35 h-2.4"/>
<path d="M67.0,4.25 h2.4 M425.5,4.25 h-2.4"/>
</g>
<g font-family="Liberation Sans, sans-serif" font-size="15.0" fill="#000" stroke="#000" stroke-width="0.22">
<text transform="translate(62.00 28.25) scale(1.0 1.05)" text-anchor="end" font-size="15.4">50</text>
<text transform="translate(62.00 58.75) scale(1.0 1.05)" text-anchor="end" font-size="15.4">0</text>
<text transform="translate(62.00 89.25) scale(1.0 1.05)" text-anchor="end" font-size="15.4">−50</text>
<text transform="translate(62.00 119.75) scale(1.0 1.05)" text-anchor="end" font-size="15.4">−100</text>
<text transform="translate(62.00 150.25) scale(1.0 1.05)" text-anchor="end" font-size="15.4">−150</text>
<text transform="translate(62.00 180.75) scale(1.0 1.05)" text-anchor="end" font-size="15.4">−200</text>
<text transform="translate(62.00 211.25) scale(1.0 1.05)" text-anchor="end" font-size="15.4">−250</text>
<text transform="translate(113.55 241.60) scale(1.0 1.05)" text-anchor="middle" font-size="15.4">500</text>
<text transform="translate(211.92 241.60) scale(1.0 1.05)" text-anchor="middle" font-size="15.4">1000</text>
<text transform="translate(310.28 241.60) scale(1.0 1.05)" text-anchor="middle" font-size="15.4">1500</text>
<text transform="translate(408.65 241.60) scale(1.0 1.05)" text-anchor="middle" font-size="15.4">2000</text>
<text transform="translate(246.00 268.00) scale(1.0 1.05)" text-anchor="middle" font-size="15.3">m[GeV]</text>
<g transform="translate(14.1,131) rotate(-90)">
<text transform="translate(-1.00 0.00) scale(1.2 1.03)" font-size="14.8">Δ</text>
<text transform="translate(10.50 1.80) scale(1.0 1.0)" font-style="italic" font-size="12.8">U</text>
<text transform="translate(21.00 0.30) scale(1.0 1.0)" font-size="16" textLength="19.3" lengthAdjust="spacingAndGlyphs">[%]</text>
</g>
<path d="M329.8,158.6 H364.0" stroke="#00ff00" stroke-width="2.9"/>
<path d="M329.8,178.7 H364.0" stroke="#800080" stroke-width="2.9"/>
<path d="M329.8,197.2 H364.0" stroke="#ff0000" stroke-width="2.9"/>
<text transform="translate(372.20 165.60) scale(1.0 1.05)">U(</text>
<text transform="translate(388.00 165.60) scale(1.0 1.05)" font-style="italic">p</text>
<text transform="translate(396.80 159.80) scale(1.0 1.05)" font-size="10.8">2</text>
<text transform="translate(402.90 165.60) scale(1.0 1.05)">)</text>
<text transform="translate(372.20 185.70) scale(1.0 1.05)">U(0)</text>
<text transform="translate(372.20 203.60) scale(1.0 1.05)">U(</text>
<text transform="translate(388.00 203.60) scale(1.0 1.05)" font-style="italic">m</text>
<text transform="translate(400.70 208.50) scale(1.0 1.05)" font-size="10.8">1</text>
<text transform="translate(400.90 197.60) scale(1.0 1.05)" font-size="10.8">2</text>
<text transform="translate(407.70 203.60) scale(1.0 1.05)">)</text>
<path d="M147.2,166.1 H181.8" stroke="#000" stroke-width="3.0"/>
<path d="M147.2,188.1 H211.9" stroke="#000" stroke-width="3.0" stroke-dasharray="9.8 3.95"/>
<text transform="translate(191.50 173.80) scale(1.0 1.05)">t</text><text transform="translate(198.20 175.30) scale(1.0 1.05)" font-size="10.6">2</text><path d="M204.80,169.60 H216.80 M213.50,166.00 L217.20,169.60 L213.50,173.20" stroke="#000" stroke-width="1.2" fill="none" stroke-linejoin="miter"/><text transform="translate(217.80 173.80) scale(1.0 1.05)" font-style="italic">χ</text><text transform="translate(226.60 177.50) scale(1.0 1.05)" font-size="10.6">2</text><text transform="translate(227.60 168.50) scale(1.0 1.05)" font-size="8.6">+</text><text transform="translate(233.40 173.80) scale(1.0 1.05)">b</text><path transform="translate(191.30 159.80)" d="M0,0.75 C0.5,-0.9 1.6,-0.9 2.20,0 S3.90,0.9 4.40,-0.75" stroke="#000" stroke-width="1.1" fill="none" stroke-linecap="round"/><path transform="translate(220.00 163.10)" d="M0,0.75 C0.5,-0.9 1.6,-0.9 2.35,0 S4.20,0.9 4.70,-0.75" stroke="#000" stroke-width="1.1" fill="none" stroke-linecap="round"/>
<text transform="translate(225.50 194.80) scale(1.0 1.05)">t</text><text transform="translate(232.20 196.30) scale(1.0 1.05)" font-size="10.6">2</text><path d="M238.80,190.60 H250.80 M247.50,187.00 L251.20,190.60 L247.50,194.20" stroke="#000" stroke-width="1.2" fill="none" stroke-linejoin="miter"/><text transform="translate(251.80 194.80) scale(1.0 1.05)" font-style="italic">χ</text><text transform="translate(260.60 198.50) scale(1.0 1.05)" font-size="10.6">4</text><text transform="translate(262.00 188.60) scale(1.0 1.05)" font-size="9.6">0</text><text transform="translate(267.40 194.80) scale(1.0 1.05)">t</text><path transform="translate(225.30 180.80)" d="M0,0.75 C0.5,-0.9 1.6,-0.9 2.20,0 S3.90,0.9 4.40,-0.75" stroke="#000" stroke-width="1.1" fill="none" stroke-linecap="round"/><path transform="translate(254.00 184.10)" d="M0,0.75 C0.5,-0.9 1.6,-0.9 2.35,0 S4.20,0.9 4.70,-0.75" stroke="#000" stroke-width="1.1" fill="none" stroke-linecap="round"/>
</g>
</svg>
</body></html>
